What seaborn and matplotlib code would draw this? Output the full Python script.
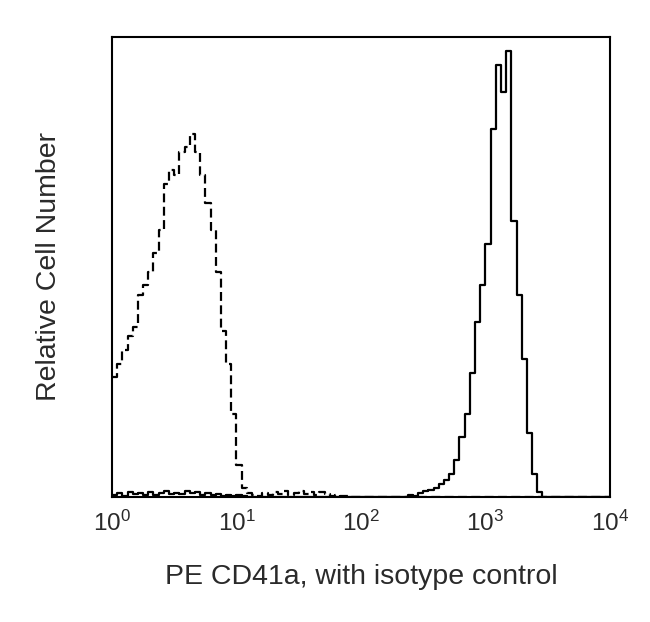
import numpy as np
import matplotlib
matplotlib.use("Agg")
import matplotlib.pyplot as plt
import seaborn as sns

# histogram channels: 24 bins per decade over 10^0 .. 10^4
n_bins = 96
isotype_counts = [26, 29, 32, 35, 37, 44, 46, 49, 53, 58, 68, 71, 70, 75, 76, 79,
                  75, 70, 64, 58, 49, 36, 29, 18, 7, 2, 0.8, 0.5, 0.3, 0.8, 0.4, 1.0,
                  0.6, 1.2, 0.5, 0.9, 1.4, 0.7, 1.1, 0.4, 1.0, 0.6, 0.3, 0.5, 0.2, 0.3]
cd41a_counts = [0.4, 0.8, 0.3, 1.0, 0.6, 0.9, 0.4, 1.1, 0.5, 0.8, 1.2, 0.7, 0.9, 0.6,
                1.3, 0.8, 1.0, 0.5, 0.9, 0.4, 0.6, 0.3, 0.5, 0.2, 0.4, 0.2, 0.1, 0, 0,
                0, 0, 0, 0, 0, 0, 0, 0, 0, 0, 0, 0, 0, 0, 0, 0, 0, 0, 0, 0, 0, 0, 0,
                0, 0, 0, 0, 0,
                0.5, 0.3, 0.8, 1.2, 1.5, 2.0, 2.8, 3.7, 5, 8, 13, 18, 27, 38, 46, 55,
                80, 94, 88, 97, 60, 44, 30, 14, 5, 1, 0]
tick_values = [1, 10, 100, 1000, 10000]

iso = np.zeros(n_bins)
iso[:len(isotype_counts)] = isotype_counts
cd = np.zeros(n_bins)
cd[:len(cd41a_counts)] = cd41a_counts
centers = 10 ** ((np.arange(n_bins) + 0.5) * 4 / n_bins)

sns.set_style("white")
plt.rcParams["font.family"] = ["Liberation Sans", "DejaVu Sans"]
plt.rcParams["mathtext.fontset"] = "custom"
plt.rcParams["mathtext.rm"] = "Liberation Sans"

fig = plt.figure(figsize=(6.5, 6.22), dpi=100)
ax = fig.add_axes([0.1723, 0.201, 0.766, 0.7395])

sns.histplot(x=centers, weights=iso, bins=n_bins, binrange=(0, 4), log_scale=True,
             element="step", fill=False, color="black", linewidth=1.6,
             linestyle=(0, (4, 2)), ax=ax)
sns.histplot(x=centers, weights=cd, bins=n_bins, binrange=(0, 4), log_scale=True,
             element="step", fill=False, color="black", linewidth=1.6, ax=ax)

ax.set_xlim(1, 10000)
ax.set_ylim(0, 100)
ax.set_xticks(tick_values)
ax.xaxis.set_minor_locator(matplotlib.ticker.NullLocator())
ax.set_yticks([])
ax.tick_params(axis="x", length=0, pad=10, labelsize=17.5, labelcolor="#2a2a2a")
for s in ax.spines.values():
    s.set_color("black")
    s.set_linewidth(1.5)

ax.set_xlabel("PE CD41a, with isotype control", fontsize=20.5, color="#2a2a2a", labelpad=20)
ax.set_ylabel("Relative Cell Number", fontsize=20.5, color="#2a2a2a", labelpad=36)

fig.savefig("out.png", dpi=100)
